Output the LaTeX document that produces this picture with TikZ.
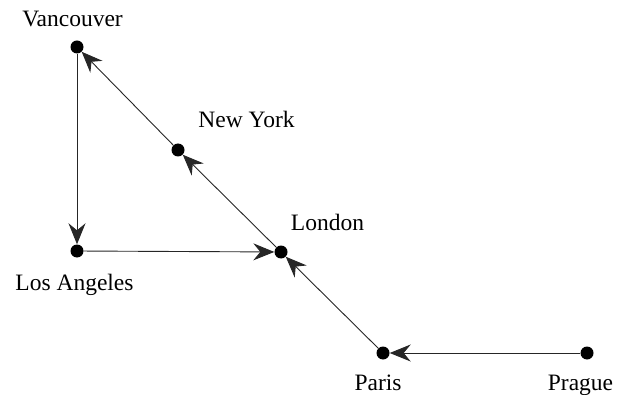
\documentclass[tikz,border=0pt]{standalone}
\usepackage{fontspec}
\setmainfont{Liberation Serif}
\usetikzlibrary{arrows.meta}
\begin{document}
\begin{tikzpicture}[x=1pt,y=-1pt,
  dot/.style={circle,fill=black,inner sep=0pt,minimum size=13pt},
  lbl/.style={anchor=base,inner sep=0pt,font=\fontsize{23.5}{28}\selectfont},
  edge/.style={line width=0.9pt,draw=black!85,-{Stealth[length=21pt,width=17pt,inset=7pt]}}]
\useasboundingbox (0,0) rectangle (620,395);
\node[dot] (van) at (77,47) {};
\node[dot] (ny) at (178,150) {};
\node[dot] (lon) at (281,252) {};
\node[dot] (la) at (77,251) {};
\node[dot] (par) at (383,353) {};
\node[dot] (pra) at (587,353) {};
\node[lbl] (tvan) at (72.5,27) {Vancouver};
\node[lbl] (tny) at (246.5,128) {New York};
\node[lbl] (tlon) at (327.5,230) {London};
\node[lbl] (tla) at (74.5,290) {Los Angeles};
\node[lbl] (tpar) at (378,390) {Paris};
\node[lbl] (tpra) at (580.5,390) {Prague};
\draw[edge] (pra) -- (par);
\draw[edge] (par) -- (lon);
\draw[edge] (lon) -- (ny);
\draw[edge] (ny) -- (van);
\draw[edge] (van) -- (la);
\draw[edge] (la) -- (lon);
\end{tikzpicture}
\end{document}
